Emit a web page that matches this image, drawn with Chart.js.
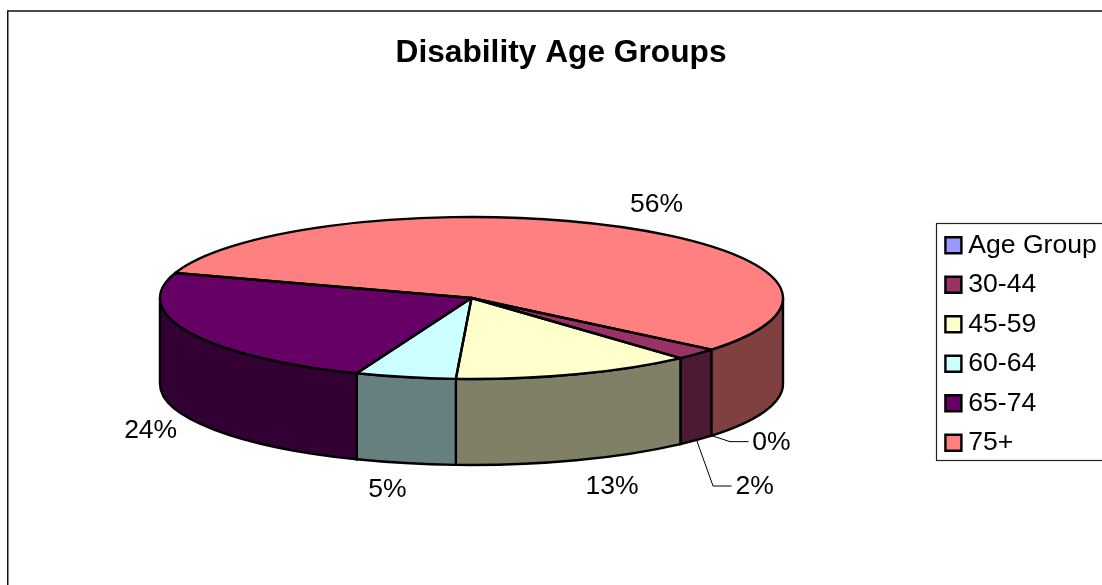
<!DOCTYPE html>
<html>
<head>
<meta charset="utf-8">
<title>Disability Age Groups</title>
<script src="https://cdn.jsdelivr.net/npm/chart.js@4"></script>
<style>
  html, body { margin: 0; padding: 0; background: #fff; overflow: hidden; }
  canvas { display: block; }
</style>
</head>
<body>
<canvas id="chart_disability" width="1102" height="585"></canvas>
<script>
const categories = ["Age Group", "30-44", "45-59", "60-64", "65-74", "75+"];
const shares = [0, 2.3, 12.5, 5.2, 24, 56];
const percentLabels = ["0%", "2%", "13%", "5%", "24%", "56%"];
const sliceColors = ["#9999FF", "#993366", "#FFFFCC", "#CCFFFF", "#660066", "#FF8080"];
const wallColors = ["#4D4D80", "#4D1A33", "#808066", "#668080", "#330033", "#804040"];

// where the flattened pie sits on the page
const pie = { x: 471.5, y: 298, rx: 311.5, ry: 81, depth: 86 };
// label offset from the rim point at the middle of each slice
const labelOffsets = [[60, 7], [58, 47], [36, 26], [-18, 27], [-39, 12], [35, -22]];
const leaderLabels = [0, 1];

function rimPoint(angle, drop) {
    return [pie.x + pie.rx * Math.cos(angle), pie.y + pie.ry * Math.sin(angle) + drop];
}

const pie3d = {
    id: "pie3d",

    // page frame and legend frame
    beforeDraw(chart) {
        const ctx = chart.ctx;
        ctx.save();
        ctx.fillStyle = "#fff";
        ctx.fillRect(0, 0, chart.width, chart.height);
        ctx.strokeStyle = "#111";
        ctx.lineWidth = 1.5;
        ctx.strokeRect(7.75, 11, chart.width + 20, chart.height + 20);
        ctx.lineWidth = 1.2;
        ctx.strokeStyle = "#222";
        ctx.strokeRect(936.5, 223.5, chart.width, 237);
        ctx.restore();
    },

    // the legend stays the library's own, just moved to its spot
    afterLayout(chart) {
        const legend = chart.legend;
        legend.left = 939;
        legend.right = 1102;
        legend.top = 219;
        legend.bottom = 520;
    },

    beforeDatasetDraw(chart) {
        const ctx = chart.ctx;
        const arcs = chart.getDatasetMeta(0).data;

        // side walls, only the part facing us
        ctx.save();
        ctx.lineWidth = 2.4;
        ctx.strokeStyle = "#000";
        arcs.forEach((arc, i) => {
            const a = arc.startAngle, b = arc.endAngle;
            if (b <= a) return;
            [0, 2 * Math.PI, -2 * Math.PI].forEach((turn) => {
                const s = Math.max(a, turn);
                const e = Math.min(b, turn + Math.PI);
                if (e <= s) return;
                ctx.beginPath();
                ctx.ellipse(pie.x, pie.y, pie.rx, pie.ry, 0, s, e);
                ctx.ellipse(pie.x, pie.y + pie.depth, pie.rx, pie.ry, 0, e, s, true);
                ctx.closePath();
                ctx.fillStyle = wallColors[i];
                ctx.fill();
                ctx.stroke();
            });
        });
        ctx.restore();

        // squash the round pie into the ellipse
        const first = arcs[0];
        const r = first.outerRadius;
        ctx.save();
        ctx.translate(pie.x, pie.y);
        ctx.scale(pie.rx / r, pie.ry / r);
        ctx.translate(-first.x, -first.y);
    },

    afterDatasetDraw(chart) {
        const ctx = chart.ctx;
        ctx.restore();

        const arcs = chart.getDatasetMeta(0).data;
        ctx.save();
        ctx.lineWidth = 2.4;
        ctx.strokeStyle = "#000";
        ctx.lineJoin = "round";
        arcs.forEach((arc) => {
            if (arc.endAngle <= arc.startAngle) return;
            ctx.beginPath();
            ctx.moveTo(pie.x, pie.y);
            ctx.ellipse(pie.x, pie.y, pie.rx, pie.ry, 0, arc.startAngle, arc.endAngle);
            ctx.closePath();
            ctx.stroke();
        });
        ctx.restore();
    },

    // percent labels with the two leader lines
    afterDatasetsDraw(chart) {
        const ctx = chart.ctx;
        const arcs = chart.getDatasetMeta(0).data;
        ctx.save();
        ctx.font = '26.5px "Liberation Sans", Arial, sans-serif';
        ctx.textAlign = "center";
        ctx.textBaseline = "middle";
        ctx.fillStyle = "#000";
        arcs.forEach((arc, i) => {
            const mid = (arc.startAngle + arc.endAngle) / 2;
            const front = Math.sin(mid) > 0;
            const [px, py] = rimPoint(mid, front ? pie.depth : 0);
            const lx = px + labelOffsets[i][0];
            const ly = py + labelOffsets[i][1];
            ctx.fillText(percentLabels[i], lx, ly);
            if (leaderLabels.includes(i)) {
                ctx.beginPath();
                ctx.lineWidth = 1;
                ctx.strokeStyle = "#000";
                ctx.moveTo(px, py);
                ctx.lineTo(lx - 41.5, ly - 1);
                ctx.lineTo(lx - 23, ly - 1);
                ctx.stroke();
            }
        });
        ctx.restore();
    }
};

new Chart(document.getElementById("chart_disability"), {
    type: "pie",
    plugins: [pie3d],
    data: {
        labels: categories,
        datasets: [{
            data: shares,
            backgroundColor: sliceColors,
            borderWidth: 0,
            clip: false
        }]
    },
    options: {
        responsive: false,
        animation: false,
        events: [],
        rotation: 129.6,
        layout: { padding: { left: 20 } },
        plugins: {
            title: {
                display: true,
                text: "Disability Age Groups",
                color: "#000",
                font: { family: '"Liberation Sans", Arial, sans-serif', size: 31.7, weight: "bold" },
                padding: { top: 34, bottom: 10 }
            },
            legend: {
                position: "right",
                align: "start",
                labels: {
                    color: "#000",
                    font: { family: '"Liberation Sans", Arial, sans-serif', size: 26.6 },
                    usePointStyle: true,
                    pointStyle: "rect",
                    boxWidth: 3,
                    boxHeight: 16,
                    padding: 12.9,
                    generateLabels(chart) {
                        return categories.map((name, i) => ({
                            text: name,
                            fillStyle: sliceColors[i],
                            strokeStyle: "#000",
                            lineWidth: 2.4,
                            fontColor: "#000",
                            pointStyle: "rect",
                            index: i
                        }));
                    }
                }
            },
            tooltip: { enabled: false }
        }
    }
});
</script>
</body>
</html>
